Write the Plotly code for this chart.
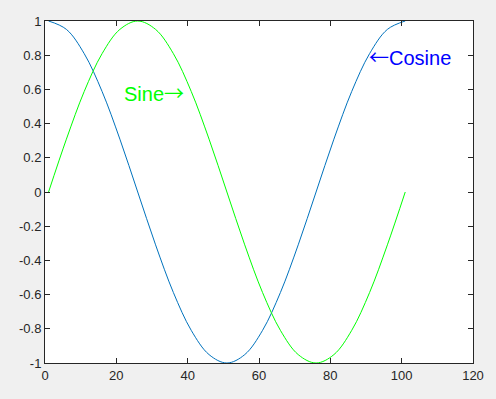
import plotly.graph_objects as go

# Sample positions (x) and values
x_vals = [1, 6, 11, 16, 21, 26, 31, 36, 41, 46, 51, 56, 61, 66, 71, 76, 81, 86, 91, 96, 101]
sine_vals = [0.0, 0.309, 0.588, 0.809, 0.951, 1.0, 0.951, 0.809, 0.588, 0.309, 0.0,
             -0.309, -0.588, -0.809, -0.951, -1.0, -0.951, -0.809, -0.588, -0.309, 0.0]
cosine_vals = [1.0, 0.951, 0.809, 0.588, 0.309, 0.0, -0.309, -0.588, -0.809, -0.951, -1.0,
               -0.951, -0.809, -0.588, -0.309, 0.0, 0.309, 0.588, 0.809, 0.951, 1.0]

x_ticks = [0, 20, 40, 60, 80, 100, 120]
x_tick_labels = ["0", "20", "40", "60", "80", "100", "120"]
y_ticks = [-1, -0.8, -0.6, -0.4, -0.2, 0, 0.2, 0.4, 0.6, 0.8, 1]
y_tick_labels = ["-1", "-0.8", "-0.6", "-0.4", "-0.2", "0", "0.2", "0.4", "0.6", "0.8", "1"]

ARROW_FONT = "Noto Sans CJK JP"
sine_label = "Sine<span style='font-family:%s'>\u2192</span>" % ARROW_FONT
cosine_label = "<span style='font-family:%s'>\u2190</span>Cosine" % ARROW_FONT

fig = go.Figure()
fig.add_trace(go.Scatter(x=x_vals, y=cosine_vals, mode="lines",
                         line=dict(color="#0072BD", width=1, shape="spline"),
                         showlegend=False, hoverinfo="skip"))
fig.add_trace(go.Scatter(x=x_vals, y=sine_vals, mode="lines",
                         line=dict(color="#00FF00", width=1, shape="spline"),
                         showlegend=False, hoverinfo="skip"))

axis_common = dict(showline=True, linecolor="#262626", linewidth=1, mirror="allticks",
                   ticks="inside", ticklen=5, tickcolor="#262626", tickwidth=1,
                   showgrid=False, zeroline=False,
                   tickfont=dict(family="Liberation Sans, Arial", size=13, color="#262626"))

fig.update_xaxes(range=[0, 120], tickmode="array", tickvals=x_ticks, ticktext=x_tick_labels,
                 **axis_common)
fig.update_yaxes(range=[-1, 1], tickmode="array", tickvals=y_ticks, ticktext=y_tick_labels,
                 **axis_common)

fig.add_annotation(x=39.5, y=0.58, text=sine_label, showarrow=False, xanchor="right",
                   yanchor="middle",
                   font=dict(family="Liberation Sans, Arial", size=20, color="#00FF00"))
fig.add_annotation(x=90.3, y=0.79, text=cosine_label, showarrow=False, xanchor="left",
                   yanchor="middle",
                   font=dict(family="Liberation Sans, Arial", size=20, color="#0000FF"))

fig.update_layout(width=496, height=399, autosize=False,
                  margin=dict(l=45, r=19, t=21, b=36),
                  paper_bgcolor="#F0F0F0", plot_bgcolor="#FFFFFF")

fig.write_html("out.html",
               config={"displayModeBar": False},
               post_script="document.body.style.margin='0';"
                           "document.body.style.overflow='hidden';"
                           "document.body.style.background='#F0F0F0';")
